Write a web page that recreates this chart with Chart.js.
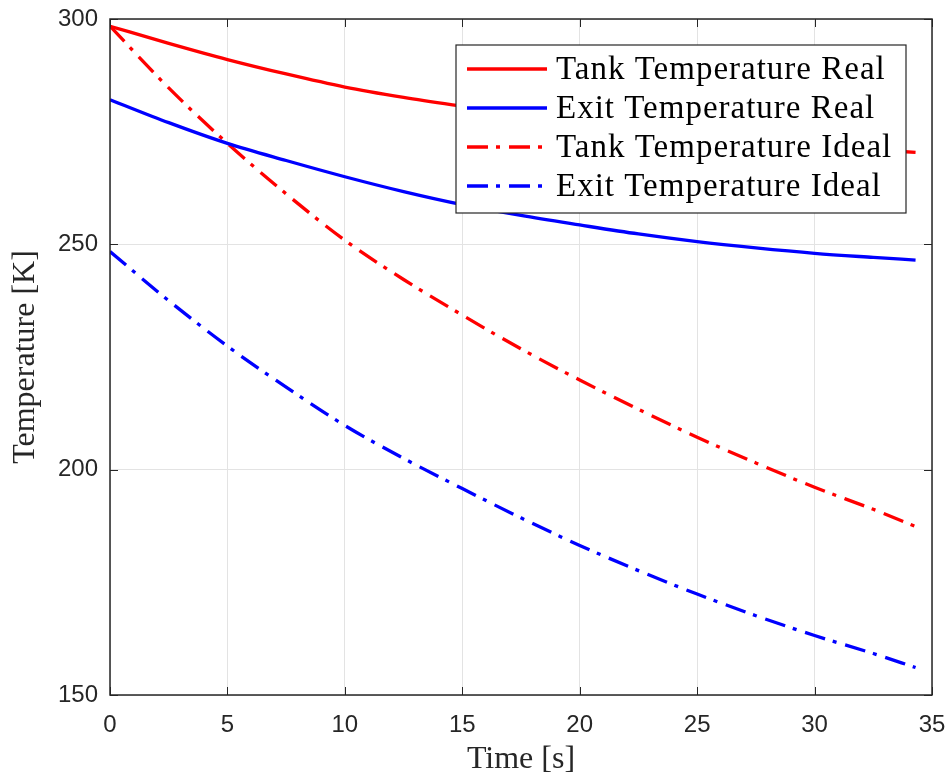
<!DOCTYPE html>
<html>
<head>
<meta charset="utf-8">
<script src="https://cdn.jsdelivr.net/npm/chart.js@4.4.1/dist/chart.umd.min.js"></script>
<style>
  html, body { margin: 0; padding: 0; background: #fff; }
  canvas { display: block; }
</style>
</head>
<body>
<canvas id="myChart" width="948" height="779"></canvas>
<script>
const ctx = document.getElementById("myChart");

// time [s]
var arrTime = [0, 2.5, 5, 7.5, 10, 12.5, 15, 17.5, 20, 22.5, 25, 27.5, 30, 32.5, 34.3];
// temperatures [K]
var tankReal = [298.4, 294.6, 291.0, 287.8, 284.9, 282.6, 280.6, 278.7, 277.0, 275.5, 274.1, 272.9, 271.8, 271.0, 270.4];
var exitReal = [282.1, 277.0, 272.4, 268.6, 265.0, 261.7, 258.8, 256.4, 254.3, 252.3, 250.6, 249.2, 248.0, 247.1, 246.5];
var tankIdeal = [298.4, 284.7, 272.4, 261.2, 250.9, 242.2, 234.3, 226.8, 219.9, 213.4, 207.2, 201.5, 196.1, 191.2, 187.4];
var exitIdeal = [248.4, 237.5, 227.4, 218.3, 209.8, 202.5, 195.8, 189.3, 183.2, 177.6, 172.4, 167.6, 163.2, 159.2, 156.1];

var arrLabels = [
  "Tank Temperature Real",
  "Exit Temperature Real",
  "Tank Temperature Ideal",
  "Exit Temperature Ideal",
];
var xTicks = [0, 5, 10, 15, 20, 25, 30, 35];
var yTicks = [150, 200, 250, 300];

var dashDot = [21, 8, 4, 9];
var serif = "'Liberation Serif', 'Times New Roman', serif";
var sans = "'Liberation Sans', Arial, sans-serif";
var axisColor = "#262626";

function pts(ys) {
  return ys.map(function (y, i) {
    return { x: arrTime[i], y: y };
  });
}

function ds(i, ys, color, dash) {
  return {
    label: arrLabels[i],
    data: pts(ys),
    borderColor: color,
    backgroundColor: color,
    borderWidth: 3.3,
    borderDash: dash,
    pointRadius: 0,
    cubicInterpolationMode: "monotone",
    fill: false,
  };
}

const data = {
  datasets: [
    ds(0, tankReal, "#ff0000", []),
    ds(1, exitReal, "#0000ff", []),
    ds(2, tankIdeal, "#ff0000", dashDot),
    ds(3, exitIdeal, "#0000ff", dashDot),
  ],
};

// inward ticks on all four sides plus the closed box
const boxPlugin = {
  id: "boxPlugin",
  afterDatasetsDraw: function (chart) {
    const c = chart.ctx;
    const a = chart.chartArea;
    const xs = chart.scales.x;
    const ys = chart.scales.y;
    const len = 8;
    c.save();
    c.strokeStyle = axisColor;
    c.lineWidth = 1;
    c.beginPath();
    xTicks.forEach(function (v) {
      var px = Math.round(xs.getPixelForValue(v)) + 0.5;
      c.moveTo(px, a.bottom);
      c.lineTo(px, a.bottom - len);
      c.moveTo(px, a.top);
      c.lineTo(px, a.top + len);
    });
    yTicks.forEach(function (v) {
      var py = Math.round(ys.getPixelForValue(v)) + 0.5;
      c.moveTo(a.left, py);
      c.lineTo(a.left + len, py);
      c.moveTo(a.right, py);
      c.lineTo(a.right - len, py);
    });
    c.stroke();
    c.lineWidth = 1.5;
    c.strokeRect(a.left, a.top, a.right - a.left, a.bottom - a.top);
    c.restore();
  },
  afterDraw: function (chart) {
    // legend inside plot, top right
    const c = chart.ctx;
    const a = chart.chartArea;
    const w = 450, h = 168;
    const left = a.right - 26 - w;
    const top = a.top + 26;
    const rowH = 39;
    c.save();
    c.fillStyle = "#ffffff";
    c.fillRect(left, top, w, h);
    c.strokeStyle = axisColor;
    c.lineWidth = 1.2;
    c.strokeRect(left, top, w, h);
    c.font = "33px " + serif;
    c.letterSpacing = "1px";
    c.textBaseline = "middle";
    chart.data.datasets.forEach(function (d, i) {
      var cy = top + 24 + i * rowH;
      c.strokeStyle = d.borderColor;
      c.lineWidth = 3.3;
      c.setLineDash(d.borderDash);
      c.beginPath();
      c.moveTo(left + 11, cy);
      c.lineTo(left + 91, cy);
      c.stroke();
      c.setLineDash([]);
      c.fillStyle = "#000000";
      c.fillText(d.label, left + 100, cy + 1);
    });
    c.restore();
  },
};

new Chart(ctx, {
  type: "line",
  data: data,
  options: {
    responsive: false,
    animation: false,
    layout: {
      padding: { left: 0, right: 16, top: 19, bottom: 0 },
    },
    plugins: {
      legend: { display: false },
      tooltip: { enabled: false },
    },
    scales: {
      x: {
        type: "linear",
        min: 0,
        max: 35,
        afterBuildTicks: function (scale) {
          scale.ticks = xTicks.map(function (v) { return { value: v }; });
        },
        afterFit: function (scale) {
          scale.height = 84;
          scale.paddingLeft = 0;
          scale.paddingRight = 0;
        },
        grid: {
          color: "#e3e3e3",
          lineWidth: 1,
          drawTicks: false,
        },
        border: { display: false },
        ticks: {
          color: axisColor,
          padding: 16,
          maxRotation: 0,
          font: { family: sans, size: 24 },
        },
        title: {
          display: true,
          text: "Time [s]",
          color: "#262626",
          padding: { top: 0, bottom: 0 },
          font: { family: serif, size: 32 },
        },
      },
      y: {
        type: "linear",
        min: 150,
        max: 300,
        afterBuildTicks: function (scale) {
          scale.ticks = yTicks.map(function (v) { return { value: v }; });
        },
        afterFit: function (scale) {
          scale.width = 110;
          scale.paddingTop = 0;
          scale.paddingBottom = 0;
        },
        grid: {
          color: "#e3e3e3",
          lineWidth: 1,
          drawTicks: false,
        },
        border: { display: false },
        ticks: {
          color: axisColor,
          padding: 12,
          font: { family: sans, size: 24 },
        },
        title: {
          display: true,
          text: "Temperature [K]",
          color: "#262626",
          padding: { top: 6, bottom: 0 },
          font: { family: serif, size: 32 },
        },
      },
    },
  },
  plugins: [boxPlugin],
});
</script>
</body>
</html>
